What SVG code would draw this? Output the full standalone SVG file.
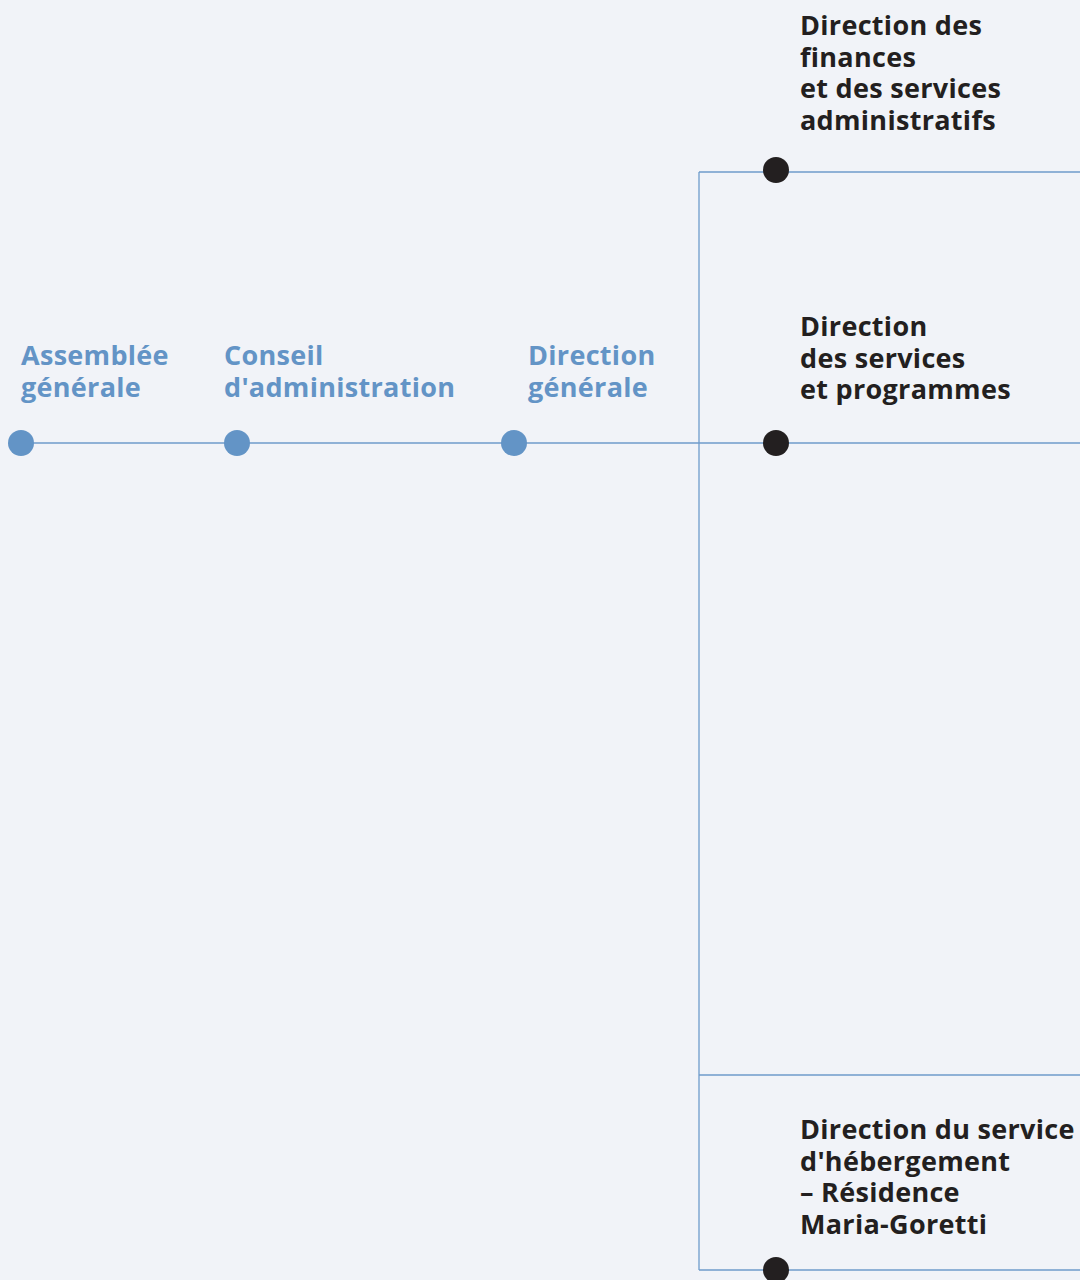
<svg xmlns="http://www.w3.org/2000/svg" width="1080" height="1280" viewBox="0 0 1080 1280">
<style>
.bg{fill:#F1F3F8}
.ln{stroke:#6E9BCB;stroke-width:1.3;fill:none}
.blue{fill:#6394C6}
.dark{fill:#231F20}
.tb{font-family:"Open Sans","Noto Sans",sans-serif;font-weight:700;font-size:27px;letter-spacing:0.3px;fill:#6394C6}
.td{font-family:"Open Sans","Noto Sans",sans-serif;font-weight:700;font-size:27px;letter-spacing:0.3px;fill:#231F20}
</style>
<rect class="bg" x="0" y="0" width="1080" height="1280"/>
<g id="connectors">
<line class="ln" x1="21" y1="443" x2="1080" y2="443"/>
<line class="ln" x1="699" y1="172" x2="699" y2="1270"/>
<line class="ln" x1="699" y1="172" x2="1080" y2="172"/>
<line class="ln" x1="699" y1="1075" x2="1080" y2="1075"/>
<line class="ln" x1="699" y1="1270" x2="1080" y2="1270"/>
</g>
<g id="assemblee">
<circle class="blue" cx="21" cy="443" r="13"/>
<text class="tb"><tspan x="21" y="365">Assemblée</tspan><tspan x="21" y="397">générale</tspan></text>
</g>
<g id="conseil">
<circle class="blue" cx="237" cy="443" r="13"/>
<text class="tb"><tspan x="224" y="365">Conseil</tspan><tspan x="224" y="397">d'administration</tspan></text>
</g>
<g id="direction-generale">
<circle class="blue" cx="514" cy="443" r="13"/>
<text class="tb"><tspan x="528" y="365">Direction</tspan><tspan x="528" y="397">générale</tspan></text>
</g>
<g id="finances">
<circle class="dark" cx="776" cy="170" r="13"/>
<text class="td"><tspan x="800" y="35">Direction des</tspan><tspan x="800" y="67">finances</tspan><tspan x="800" y="98">et des services</tspan><tspan x="800" y="130">administratifs</tspan></text>
</g>
<g id="services-programmes">
<circle class="dark" cx="776" cy="443" r="13"/>
<text class="td"><tspan x="800" y="336">Direction</tspan><tspan x="800" y="368">des services</tspan><tspan x="800" y="399">et programmes</tspan></text>
</g>
<g id="hebergement">
<circle class="dark" cx="776" cy="1270" r="13"/>
<text class="td"><tspan x="800" y="1139">Direction du service</tspan><tspan x="800" y="1171">d'hébergement</tspan><tspan x="800" y="1202">– Résidence</tspan><tspan x="800" y="1234">Maria-Goretti</tspan></text>
</g>
</svg>
